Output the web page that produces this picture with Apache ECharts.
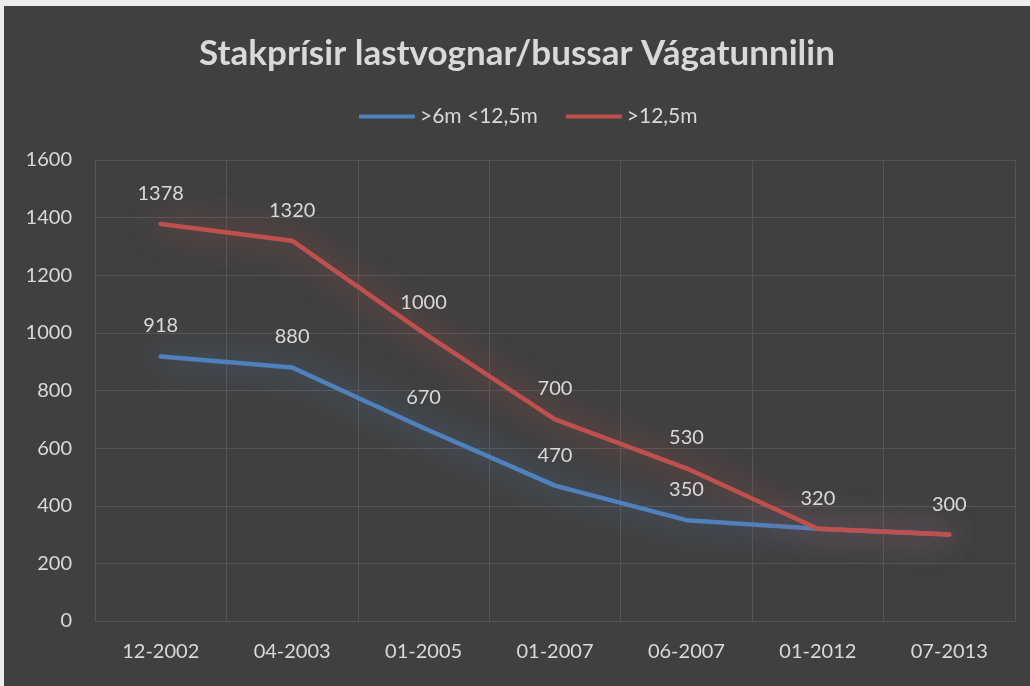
<!DOCTYPE html>
<html>
<head>
    <meta charset="utf-8" />
    <title>Stakprísir</title>
    <style>
        html, body { margin: 0; padding: 0; background: #ececec; }
        #main { position: absolute; left: 4px; top: 6px; width: 1026px; height: 680px; }
    </style>
</head>
<body>
<script src="https://cdn.jsdelivr.net/npm/echarts@6/dist/echarts.min.js"></script>
<div id="main"></div>
<script type="text/javascript">
    // data
    var dates = ['12-2002', '04-2003', '01-2005', '01-2007', '06-2007', '01-2012', '07-2013'];
    var shortVehicles = [918, 880, 670, 470, 350, 320, 300];   // >6m <12,5m
    var longVehicles = [1378, 1320, 1000, 700, 530, 320, 300]; // >12,5m

    var textColor = '#d9d9d9';
    var fontName = 'Lato';

    function lineSeries(name, data, color, glow, labelFormatter) {
        return {
            name: name,
            type: 'line',
            data: data,
            symbol: 'circle',
            symbolSize: 1,
            showSymbol: true,
            lineStyle: {
                width: 4.5,
                color: color,
                cap: 'round',
                join: 'round',
                shadowBlur: 32,
                shadowColor: glow
            },
            itemStyle: { color: color },
            label: {
                show: true,
                position: 'top',
                distance: 20,
                color: textColor,
                fontSize: 20,
                fontFamily: fontName,
                formatter: labelFormatter
            },
            emphasis: { disabled: true }
        };
    }

    // where both lines meet, only one label is written
    function shortLabel(p) {
        return shortVehicles[p.dataIndex] === longVehicles[p.dataIndex] ? '' : String(p.value);
    }

    var myChart = echarts.init(document.getElementById('main'));
    var option = {
        backgroundColor: '#404040',
        animation: false,
        title: {
            text: 'Stakprísir lastvognar/bussar Vágatunnilin',
            left: 'center',
            top: 25,
            padding: [5, 0, 5, 26],
            textStyle: {
                color: textColor,
                fontSize: 35,
                fontWeight: 'bold',
                fontFamily: fontName
            }
        },
        legend: {
            top: 95,
            left: 350,
            itemWidth: 56,
            itemHeight: 4,
            itemGap: 28,
            icon: 'roundRect',
            textStyle: { color: textColor, fontSize: 21, fontFamily: fontName },
            data: ['>6m <12,5m', '>12,5m']
        },
        grid: {
            left: 91,
            right: 15,
            top: 154,
            bottom: 65,
            containLabel: false
        },
        xAxis: {
            type: 'category',
            data: dates,
            boundaryGap: true,
            axisLine: { show: false },
            axisTick: { show: false },
            axisLabel: {
                color: textColor,
                fontSize: 20,
                fontFamily: fontName,
                margin: 21
            },
            splitLine: {
                show: true,
                lineStyle: { color: '#555555', width: 1 }
            }
        },
        yAxis: {
            type: 'value',
            min: 0,
            max: 1600,
            interval: 200,
            axisLine: { show: false },
            axisTick: { show: false },
            axisLabel: {
                color: textColor,
                fontSize: 20,
                fontFamily: fontName,
                margin: 23,
                formatter: function (v) { return String(v); }
            },
            splitLine: {
                lineStyle: { color: '#555555', width: 1 }
            }
        },
        series: [
            lineSeries('>6m <12,5m', shortVehicles, '#4f81bd', 'rgba(79,129,189,1)', shortLabel),
            lineSeries('>12,5m', longVehicles, '#c0504d', 'rgba(192,80,77,1)', '{c}')
        ]
    };
    myChart.setOption(option);
</script>
</body>
</html>
